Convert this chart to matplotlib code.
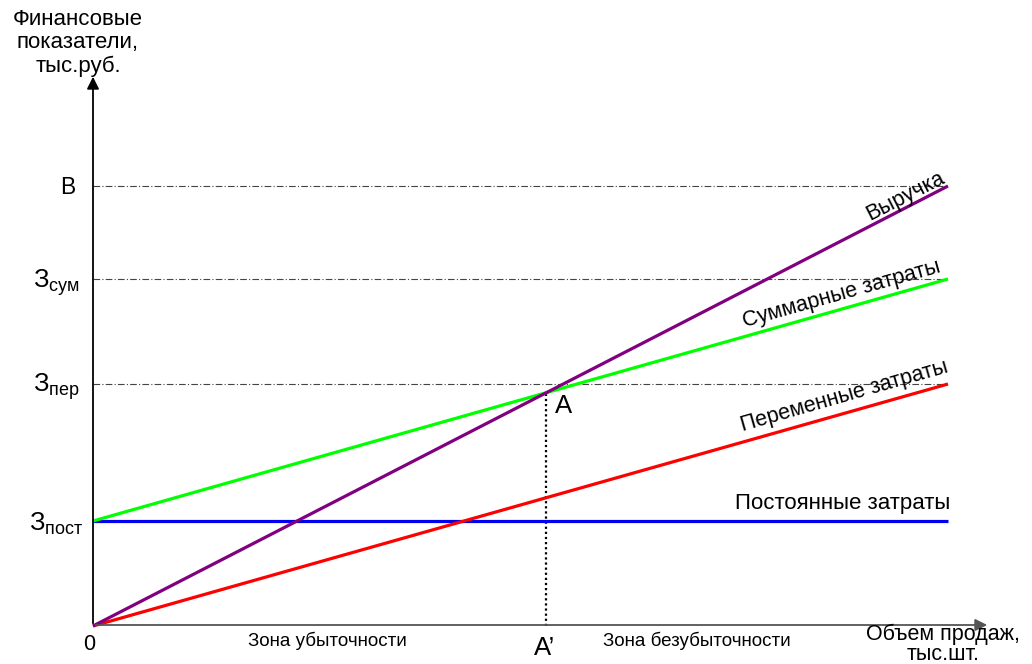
import matplotlib
matplotlib.use("Agg")
import matplotlib.pyplot as plt
import numpy as np

plt.rcParams['font.family'] = ['Liberation Sans', 'DejaVu Sans']
plt.rcParams['mathtext.fontset'] = 'custom'
plt.rcParams['mathtext.rm'] = 'Liberation Sans'

# data (volume 0..100, money units)
volume = [0, 100]
revenue = [0, 440]
fixed_costs = [105, 105]
variable_costs = [0, 242]
total_costs = [105, 347]
breakeven_x = 105 / (4.40 - 2.42)
breakeven_y = 4.40 * breakeven_x

xpx = 8.55  # px per volume unit
fig = plt.figure(figsize=(10.32, 6.64), dpi=100)
ax = fig.add_axes([0, 0, 1, 1])
ax.set_xlim(-93 / xpx, (1032 - 93) / xpx)
ax.set_ylim(626 - 664, 626)
ax.axis('off')

# guide lines
for v in [revenue[1], total_costs[1], variable_costs[1]]:
    ax.plot([0, 100], [v, v], color='#444444', lw=0.8, ls=(0, (6, 2, 1, 2)))
ax.plot([breakeven_x, breakeven_x], [0, breakeven_y], color='black', lw=1.6, ls=(0, (1, 1.3)))

# axes with arrows
ax.annotate('', xy=(0, 626 - 74), xytext=(0, 0),
            arrowprops=dict(arrowstyle='-|>', color='black', lw=1.3, mutation_scale=18))
ax.annotate('', xy=(990 / xpx - 93 / xpx, 1), xytext=(0, 1),
            arrowprops=dict(arrowstyle='-|>', color='#555555', lw=1.3, mutation_scale=18))

# series
ax.plot(volume, fixed_costs, color='#0000ee', lw=2.3, solid_capstyle='butt')
ax.plot(volume, total_costs, color='#00ff00', lw=2.3, solid_capstyle='butt')
ax.plot(volume, variable_costs, color='#ff0000', lw=2.3, solid_capstyle='butt')
ax.plot(volume, revenue, color='#800080', lw=2.3, solid_capstyle='butt')

def px(x, y):
    return ((x - 93) / xpx, 626 - y)

fs = 15.5
ax.text(*px(78, 43), 'Финансовые\nпоказатели,\nтыс.руб.', ha='center', va='center',
        fontsize=fs + 0.5, linespacing=1.12)
ax.text(*px(68, 187), 'В', ha='center', va='center', fontsize=fs + 1)
ax.text(*px(56, 283), 'З$_{\\mathregular{сум}}$', ha='center', va='center', fontsize=fs + 3)
ax.text(*px(56, 386), 'З$_{\\mathregular{пер}}$', ha='center', va='center', fontsize=fs + 3)
ax.text(*px(56, 524), 'З$_{\\mathregular{пост}}$', ha='center', va='center', fontsize=fs + 3)
ax.text(*px(89, 644), '0', ha='center', va='center', fontsize=fs)
ax.text(*px(564, 406), 'А', ha='center', va='center', fontsize=fs + 3)
ax.text(*px(545, 648), 'А’', ha='center', va='center', fontsize=fs + 3)
ax.text(*px(327, 641), 'Зона убыточности', ha='center', va='center', fontsize=13.5)
ax.text(*px(697, 641), 'Зона безубыточности', ha='center', va='center', fontsize=13.5)
ax.text(*px(943, 644), 'Объем продаж,\nтыс.шт.', ha='center', va='center', fontsize=fs,
        linespacing=0.92)

ax.text(*px(905, 196), 'Выручка', ha='center', va='center', fontsize=fs, rotation=27)
ax.text(*px(842, 294), 'Суммарные затраты', ha='center', va='center', fontsize=fs, rotation=15.7)
ax.text(*px(844, 396), 'Переменные затраты', ha='center', va='center', fontsize=fs, rotation=16)
ax.text(*px(843, 504), 'Постоянные затраты', ha='center', va='center', fontsize=fs + 0.5)

fig.savefig('out.png', dpi=100)
